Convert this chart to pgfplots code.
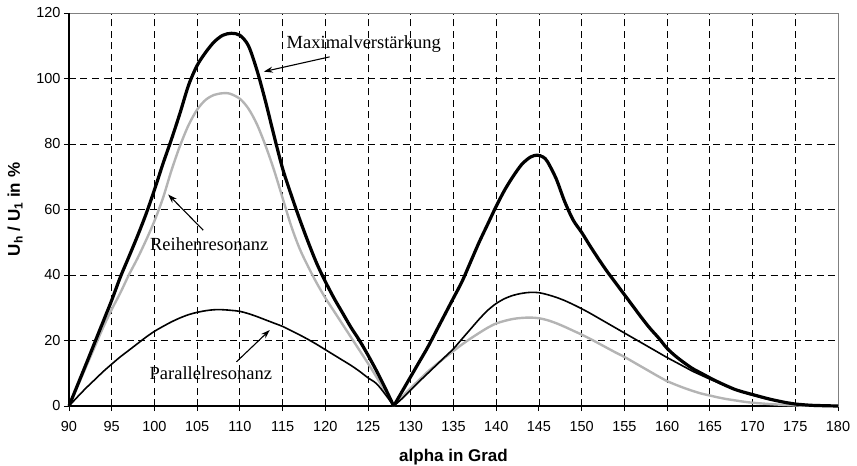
\documentclass[border=0pt]{standalone}
\usepackage{fontspec}
\setmainfont{Liberation Serif}
\newfontfamily\arialf{Liberation Sans}
\usepackage{pgfplots}
\pgfplotsset{compat=1.18}
\usetikzlibrary{arrows.meta,calc}
\definecolor{lgrey}{RGB}{180,180,180}
\definecolor{fgrey}{RGB}{128,128,128}

\begin{document}
\begin{tikzpicture}
\begin{axis}[
  name=ax,
  scale only axis,
  width=769pt, height=393pt,
  xmin=90, xmax=180, ymin=0, ymax=120,
  xtick={90,95,...,180},
  ytick={0,20,...,120},
  xtick pos=bottom, ytick pos=left,
  tick align=outside,
  major tick length=5pt,
  tick style={black, line width=0.9pt},
  axis line style={fgrey, line width=0.9pt},
  grid=major,
  major grid style={black, line width=0.8pt, dash pattern=on 7pt off 4.5pt},
  /pgf/number format/assume math mode=true,
  ticklabel style={font=\arialf\fontsize{14.5}{15}\selectfont},
  xticklabel style={yshift=-7pt},
  clip=false,
  xlabel={alpha in Grad},
  ylabel={U\textsubscript{h} / U\textsubscript{1} in \%},
  every axis x label/.style={at={(rel axis cs:0.5,0)}, anchor=base, yshift=-55pt,
     font=\arialf\bfseries\fontsize{17}{18}\selectfont},
  every axis y label/.style={at={(rel axis cs:0,0.5)}, anchor=base, xshift=-49pt, rotate=90,
     font=\arialf\bfseries\fontsize{17}{18}\selectfont},
]
% black left and bottom axis lines
\draw[black, line width=1.2pt] (rel axis cs:0,1) -- (rel axis cs:0,0) -- (rel axis cs:1,0);

% Reihenresonanz (grey)
\addplot[lgrey, line width=2.4pt, smooth] coordinates {
(90,0) (91,6) (92,12) (93,18) (94,24) (95,29.5) (96,34.5) (97,40) (98,45) (99,50.5)
(100,56.5) (101,63.5) (102,72) (103,79.5) (104,85.8) (105,90.5) (106,93.5) (107,95) (108,95.5)
(108.8,95.4) (110,93.8) (111,90.8) (112,86) (113,79.5) (114,72) (115,63.5) (116,55)
(117,48) (118,42.5) (119,37.5) (120,33) (121,29) (122,25) (123,21) (124,17) (125,13)
(126,8.8) (127,4.5) (128,0)};
\addplot[lgrey, line width=2.4pt, smooth] coordinates {
(128,0) (129,2.8) (130,5.5) (131,8) (132,10.5) (133,12.7) (134,14.8) (135,16.8) (136,18.8)
(137,20.6) (138,22.3) (139,23.9) (140,25.2) (141,26) (142,26.6) (143,26.9) (144,27)
(145,26.8) (146,26.2) (147,25.3) (148,24.2) (149,23) (150,21.8) (151,20.5) (152,19.1)
(153,17.7) (154,16.3) (155,15) (156,13.5) (157,12) (158,10.5) (159,9) (160,7.6) (161,6.5)
(162,5.5) (163,4.6) (164,3.8) (165,3.2) (166,2.6) (167,2.1) (168,1.7) (169,1.3) (170,1.0)
(172,0.6) (174,0.3) (176,0.1) (180,0)};

% Parallelresonanz (thin black)
\addplot[black, line width=1.6pt, smooth] coordinates {
(90,0) (91,2.8) (92,5.5) (93,8) (94,10.5) (95,12.8) (96,15) (97,17) (98,19) (99,21)
(100,22.8) (101,24.3) (102,25.7) (103,26.9) (104,27.9) (105,28.6) (106,29.1) (107,29.4)
(108,29.4) (109,29.2) (110,28.9) (111,28.2) (112,27.3) (113,26.3) (114,25.3) (115,24.3)
(116,23) (117,21.7) (118,20.3) (119,18.8) (120,17.2) (121,15.6) (122,14) (123,12.4)
(124,10.6) (125,8.6) (126,6.8) (127,3.6) (128,0)};
\addplot[black, line width=1.6pt, smooth] coordinates {
(128,0) (129,2.3) (130,4.9) (131,7.5) (132,10) (133,12.5) (134,15) (135,17.5) (136,20.5)
(137,23.5) (138,26.5) (139,29.2) (140,31.3) (141,32.8) (142,33.8) (143,34.4) (144,34.7)
(145,34.6) (146,34) (147,33.2) (148,32.2) (149,31) (150,29.7) (151,28.3) (152,26.8)
(153,25.3) (154,23.8) (155,22.3) (156,20.8) (157,19.3) (158,17.8) (159,16.3) (160,14.8)
(161,13.4) (162,12) (163,10.6) (164,9.4) (165,8.2) (166,7.1) (167,6) (168,5) (169,4.1)
(170,3.3) (172,2) (174,1) (175,0.6) (177,0.2) (180,0)};

% Maximalverstaerkung (thick black)
\addplot[black, line width=3.2pt, smooth] coordinates {
(90,0) (91,6.4) (92,12.8) (93,19.3) (94,25.8) (95,32.3) (96,39.3) (97,45.5) (98,51.8) (99,58.5)
(100,66) (101,74) (102,81.5) (103,89.5) (104,98) (105,104) (106,108) (107,111.2) (108,113.2)
(109,113.8) (110,113.2) (111,110) (112,102.5) (113,93) (114,82.5) (115,72.5) (116,64.5)
(117,57) (118,50) (119,43.5) (120,38) (121,33) (122,28.5) (123,24) (124,20) (125,15.5)
(126,10.7) (127,5.5) (128,0)};
\addplot[black, line width=3.2pt, smooth] coordinates {
(128,0) (129,4.5) (130,9) (131,13.5) (132,18) (133,23) (134,28) (135,33) (136,38) (137,44)
(138,50) (139,55.5) (140,61) (141,66) (142,70.2) (143,73.8) (144,76) (144.8,76.6) (145.5,76)
(146,74.6) (147,69.5) (148,62.5) (149,56.8) (150,53) (151,48.8) (152,44.8) (153,41) (154,37.5)
(155,34) (156,30.5) (157,27) (158,23.7) (159,20.8) (160,17.6) (161,15.2) (162,13.2)
(163,11.4) (164,10) (165,8.6) (166,7.3) (167,6.1) (168,5) (169,4.2) (170,3.5) (172,2.1)
(174,1) (175,0.6) (177,0.2) (180,0)};

% annotations
\node[anchor=base, font=\fontsize{18.5}{20}\selectfont] at (axis cs:124.5,109.2) {Maximalverstärkung};
\draw[-{Stealth[length=9pt,width=6pt]}, line width=1.1pt] (axis cs:120.5,106.6) -- (axis cs:112.8,102.1);
\node[anchor=base, font=\fontsize{18.5}{20}\selectfont] at (axis cs:106.4,47.4) {Reihenresonanz};
\draw[-{Stealth[length=9pt,width=6pt]}, line width=1.1pt] (axis cs:105.7,53.7) -- (axis cs:101.6,64.6);
\node[anchor=base, font=\fontsize{18.5}{20}\selectfont] at (axis cs:106.6,8.1) {Parallelresonanz};
\draw[-{Stealth[length=9pt,width=6pt]}, line width=1.1pt] (axis cs:109.6,13.5) -- (axis cs:113.5,23.2);
\end{axis}
\pgfresetboundingbox
\path ($(ax.south west)+(-69pt,-59pt)$) rectangle ($(ax.north east)+(19pt,13pt)$);
\end{tikzpicture}
\end{document}
